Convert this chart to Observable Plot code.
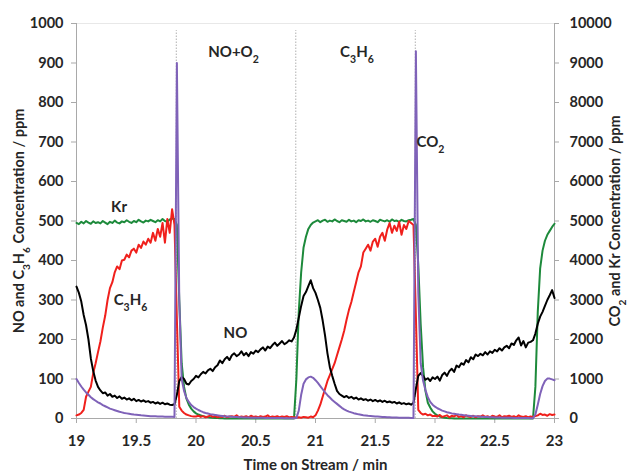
<!DOCTYPE html>
<html><head><meta charset="utf-8">
<script src="https://cdn.jsdelivr.net/npm/d3@7"></script>
<script src="https://cdn.jsdelivr.net/npm/@observablehq/plot@0.6"></script>
<style>body{margin:0;background:#fff;} svg{display:block}</style>
</head><body><div id="chart"></div>
<script>
// sampling grid: 19.00 .. 23.00 min every 0.02 min
const time = d3.range(201).map(i => Math.round((19 + i * 0.02) * 100) / 100);

// NO (left axis, ppm)
const noValues = [
 334,318,296,262,236,200,152,120,96,80,
 71,64,66,58,62,55,58,52,56,50,
 53,48,51,46,50,44,47,43,46,42,
 44,40,42,38,41,37,40,36,38,35,
 34,36,60,95,105,100,88,86,95,100,
 108,104,112,118,114,122,126,120,130,135,
 147,140,150,156,148,160,165,158,162,170,
 160,166,158,168,164,172,168,175,180,172,
 182,178,186,192,184,190,196,188,192,198,
 195,205,225,255,285,310,320,335,350,330,
 318,300,280,248,210,165,130,108,88,70,
 62,58,54,57,52,55,50,53,48,51,
 47,49,45,48,44,47,43,46,42,45,
 41,43,40,42,38,41,37,39,36,38,
 35,40,75,108,115,108,98,102,95,104,
 100,106,96,110,116,108,120,126,118,134,
 130,140,136,148,142,155,150,162,158,164,
 160,168,162,170,166,174,170,178,172,180,
 184,178,190,186,198,205,185,196,180,192,
 194,198,215,240,258,270,285,300,312,325,
 305];

// C3H6 (left axis, ppm)
const c3h6Values = [
 8,10,14,22,55,68,80,115,140,168,
 195,230,260,300,330,345,370,385,378,400,
 402,415,408,425,430,420,440,432,448,440,
 455,445,470,450,480,460,495,445,505,470,
 530,490,250,30,20,14,10,8,6,5,
 5,7,4,6,3,5,8,4,6,3,
 5,4,7,3,5,6,4,8,3,5,
 4,6,3,7,4,5,3,6,4,5,
 8,3,5,4,6,3,5,4,6,3,
 4,3,2,3,2,4,3,2,5,3,
 8,20,35,55,75,95,110,125,140,160,
 180,200,222,250,275,295,320,345,370,385,
 420,430,440,425,448,455,435,460,470,450,
 478,495,470,488,475,498,465,490,480,500,
 495,490,260,22,14,10,12,8,10,6,
 7,5,9,4,6,8,3,7,5,9,
 4,6,3,8,5,4,7,3,6,5,
 8,4,6,3,7,5,4,8,3,6,
 5,7,4,6,3,8,5,4,6,3,
 5,4,6,8,12,9,10,7,11,9,
 10];

// Kr (right axis, ppm)
const krValues = [
 4950,4920,4980,4940,5000,4960,4930,4990,4950,4970,
 4940,5000,4960,4920,4980,4950,5010,4960,4940,4990,
 4970,5020,4980,4950,5000,4970,5030,4990,4960,5010,
 4990,5030,5000,4970,5020,4990,5050,5000,4980,5040,
 5060,5050,4900,3000,1400,800,500,350,250,180,
 130,100,80,60,45,35,25,20,15,10,
 8,5,3,2,0,0,0,0,0,0,
 0,0,0,0,0,0,0,0,0,0,
 0,0,0,0,0,0,0,0,0,0,
 0,0,1000,2700,3700,4330,4600,4800,4900,4960,
 4990,5020,4970,5010,5030,4980,5010,4990,5040,5000,
 4970,5020,5000,4980,5030,4990,5010,4970,5020,5000,
 5040,4990,5010,4980,5020,5000,4970,5030,5010,4990,
 5020,4980,5040,5000,5010,4980,5030,5000,4990,5020,
 5030,5050,4900,3900,2400,1300,700,400,280,180,
 120,80,50,30,20,12,8,5,3,2,
 0,0,0,0,0,0,0,0,0,0,
 0,0,0,0,0,0,0,0,0,0,
 0,0,0,0,0,0,0,0,0,0,
 0,0,800,2700,3800,4250,4500,4650,4750,4850,
 4930];

// CO2 (right axis, ppm)
const co2Values = [
 1000,900,810,730,660,600,540,490,450,410,
 380,340,310,280,250,230,210,190,170,155,
 140,130,120,110,100,95,88,80,75,70,
 65,60,58,55,52,50,48,46,45,44,
 42,40,9000,3000,1000,700,520,420,340,290,
 250,215,185,160,140,125,110,100,90,80,
 72,65,58,52,48,44,40,36,33,30,
 28,26,24,22,20,19,18,17,16,15,
 14,13,12,12,11,10,10,9,9,8,
 8,8,10,200,600,880,990,1040,1060,1030,
 970,900,820,740,660,590,530,470,420,370,
 320,270,230,200,175,155,135,120,105,95,
 85,78,70,64,58,53,48,44,40,37,
 34,31,28,26,24,22,20,18,17,16,
 15,14,9300,3200,1400,960,720,540,420,350,
 300,260,230,200,180,160,145,130,120,110,
 100,92,85,78,72,66,60,55,50,46,
 42,38,35,32,30,28,26,24,22,20,
 18,17,16,15,14,13,12,11,10,10,
 9,9,100,350,620,820,950,1010,1010,990,
 970];

// gas switch times (min)
const switchTimes = [19.835, 20.835, 21.835];

// axis ticks
const xTicks = [19, 19.5, 20, 20.5, 21, 21.5, 22, 22.5, 23];
const leftTicks = [0, 100, 200, 300, 400, 500, 600, 700, 800, 900, 1000];
const rightTicks = [0, 1000, 2000, 3000, 4000, 5000, 6000, 7000, 8000, 9000, 10000];
const rightToLeft = 10; // right axis = 10 x left axis

// annotations
const annoText = ["Kr", "C_3H_6", "NO", "NO+O_2", "C_3H_6", "CO_2"];
const annoTime = [19.356, 19.452, 20.33, 20.314, 21.347, 21.962];
const annoValue = [534, 299, 215, 927, 927, 699];

const leftTitle = "NO and C_3H_6 Concentration / ppm";
const rightTitle = "CO_2 and Kr Concentration / ppm";
const xTitle = "Time on Stream / min";

const rows = (vals, div) => time.map((t, i) => ({t, v: vals[i] / div}));
const annos = annoText.map((s, i) => ({s, t: annoTime[i], v: annoValue[i]}));

const axisGray = "#a9a9a9";
const txt = "#262626";

const chart = Plot.plot({
  width: 630, height: 473,
  marginLeft: 76, marginRight: 76, marginTop: 23, marginBottom: 55,
  x: {domain: [19, 23]},
  y: {domain: [0, 1000]},
  style: {fontFamily: "Lato, 'DejaVu Sans', sans-serif", fontSize: "14.5px", fontWeight: "bold", background: "#fff", color: txt},
  marks: [
    Plot.ruleY([1000], {stroke: "#e8e8e8"}),
    Plot.ruleX(switchTimes, {y1: 0, y2: 982, stroke: "#b0b0b0", strokeDasharray: "1.5,1.5", strokeWidth: 1}),
    Plot.ruleX([19, 23], {stroke: axisGray}),
    Plot.ruleY([0], {stroke: axisGray}),
    Plot.axisX(xTicks, {anchor: "bottom", tickSize: 5, tickPadding: 12, stroke: axisGray, fill: txt, label: null, fontSize: 15, tickFormat: d => String(d)}),
    Plot.axisY(leftTicks, {anchor: "left", tickSize: 5, tickPadding: 8, stroke: axisGray, fill: txt, label: null, tickFormat: d => String(d)}),
    Plot.axisY(rightTicks.map(v => v / rightToLeft), {anchor: "right", tickSize: 4, tickPadding: 11, stroke: axisGray, fill: txt, label: null, tickFormat: d => String(d * rightToLeft)}),
    Plot.line(rows(krValues, rightToLeft), {x: "t", y: "v", stroke: "#1d8a3b", strokeWidth: 2}),
    Plot.line(rows(c3h6Values, 1), {x: "t", y: "v", stroke: "#f0201c", strokeWidth: 2}),
    Plot.line(rows(noValues, 1), {x: "t", y: "v", stroke: "#000", strokeWidth: 2}),
    Plot.line(rows(co2Values, rightToLeft), {x: "t", y: "v", stroke: "#7f62b8", strokeWidth: 2}),
    Plot.text(annos, {x: "t", y: "v", text: "s", fontSize: 15, fill: txt}),
    Plot.text([leftTitle], {frameAnchor: "left", textAnchor: "middle", dx: -57, rotate: -90, fontSize: 14.5, fill: txt}),
    Plot.text([rightTitle], {frameAnchor: "right", textAnchor: "middle", dx: 61, rotate: -90, fontSize: 14.5, fill: txt}),
    Plot.text([xTitle], {frameAnchor: "bottom", textAnchor: "middle", dy: 41, lineAnchor: "top", fontSize: 15, fill: txt})
  ]
});

function subscripts(root) {
  const ns = "http://www.w3.org/2000/svg";
  root.querySelectorAll("text").forEach(el => {
    const targets = el.querySelector("tspan") ? [...el.querySelectorAll("tspan")] : [el];
    targets.forEach(node => {
      const s = node.textContent;
      if (!s.includes("_")) return;
      node.textContent = "";
      s.split(/(_\d)/).filter(Boolean).forEach(part => {
        const ts = document.createElementNS(ns, "tspan");
        if (part[0] === "_") {
          ts.textContent = part.slice(1);
          ts.setAttribute("baseline-shift", "sub");
          ts.setAttribute("font-size", "70%");
        } else ts.textContent = part;
        node.appendChild(ts);
      });
    });
  });
}
subscripts(chart);
document.getElementById("chart").appendChild(chart);
</script></body></html>
